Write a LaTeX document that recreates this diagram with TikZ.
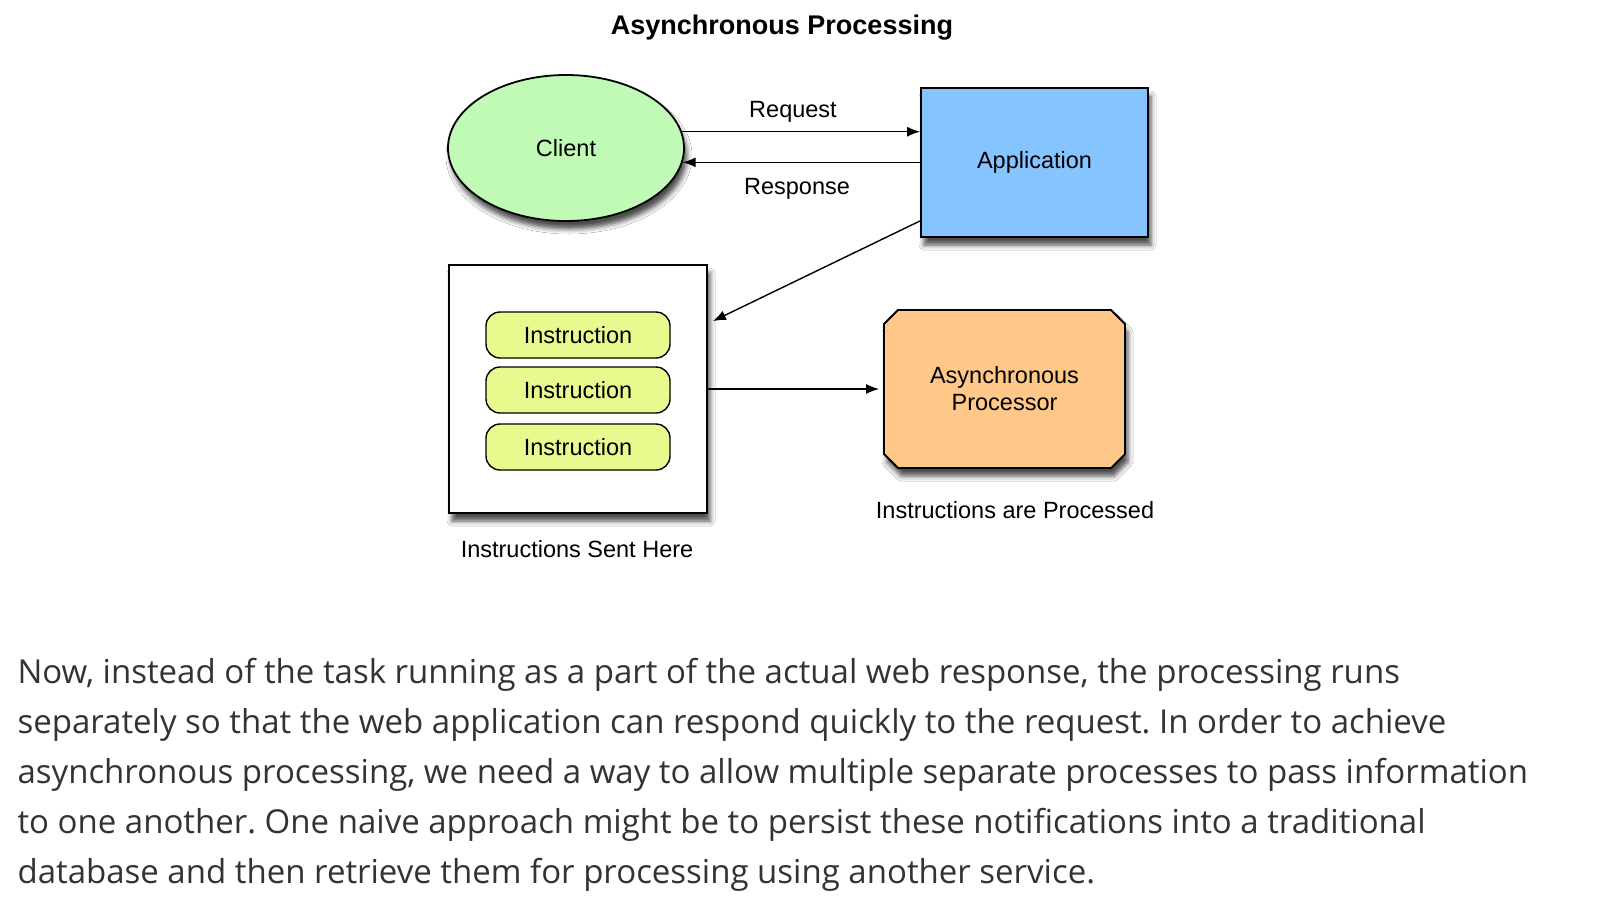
\documentclass[tikz,border=0pt]{standalone}
\usepackage{fontspec}
\setmainfont{Liberation Sans}
\newfontfamily\parafont{Open Sans}
\usetikzlibrary{arrows.meta,shapes.geometric,shapes.misc,shadows.blur}
\definecolor{clientgreen}{RGB}{192,250,182}
\definecolor{appblue}{RGB}{134,196,255}
\definecolor{instryellow}{RGB}{230,250,142}
\definecolor{procorange}{RGB}{255,200,136}
\definecolor{paragray}{RGB}{51,51,51}
\frenchspacing

\begin{document}
\begin{tikzpicture}[x=1pt,y=-1pt,
  every node/.style={font=\fontsize{23.5}{27}\selectfont},
  shade/.style={blur shadow={shadow xshift=3pt,shadow yshift=-8pt,
    shadow blur radius=5pt,shadow opacity=70}},
  box/.style={draw,line width=1.8pt,shade},
  instr/.style={draw,line width=1.4pt,fill=instryellow,rounded corners=14pt,
    minimum width=184pt,minimum height=46pt},
  arr/.style={-{Latex[length=13pt,width=10pt]},line width=1.4pt},
  para/.style={anchor=base west,text=paragray,
    font=\parafont\fontsize{33}{50}\selectfont}]
  \useasboundingbox[fill=white] (0,0) rectangle (1600,914);
  \node (title) at (782,28) {\fontsize{27}{30}\selectfont\bfseries Asynchronous Processing};
  \node[box,ellipse,fill=clientgreen,minimum width=236pt,minimum height=146pt] (client) at (566,148) {Client};
  \node[box,fill=appblue,minimum width=227pt,minimum height=149pt] (app) at (1034.5,162.5) {Application};
  \node[box,fill=white,minimum width=258pt,minimum height=248pt] (container) at (578,389) {};
  \node[instr] (instr1) at (578,335) {Instruction};
  \node[instr] (instr2) at (578,390) {Instruction};
  \node[instr] (instr3) at (578,447) {Instruction};
  \node[box,chamfered rectangle,chamfered rectangle xsep=7pt,chamfered rectangle ysep=7pt,
    fill=procorange,minimum width=241pt,minimum height=158pt,align=center,inner sep=0pt] (proc) at (1004.5,389)
    {Asynchronous\\Processor};
  \node (request) at (793,112) {Request};
  \node (response) at (797,189) {Response};
  \node (sentlabel) at (577,549) {Instructions Sent Here};
  \node (proclabel) at (1015,510) {Instructions are Processed};
  \draw[arr] (client.8) -- (client.8 -| app.west);
  \draw[arr] (app.west |- client.-7) -- (client.-7);
  \draw[arr] ([shift={(0,-17)}]app.south west) -- ([shift={(5,57)}]container.north east);
  \draw[arr] (container) -- ([xshift=-4pt]proc.west);
  \node[para] (line1) at (14,683) {Now, instead of the task running as a part of the actual web response, the processing runs};
  \node[para] (line2) at (14,733) {separately so that the web application can respond quickly to the request. In order to achieve};
  \node[para] (line3) at (14,783) {asynchronous processing, we need a way to allow multiple separate processes to pass information};
  \node[para] (line4) at (14,833) {to one another. One naive approach might be to persist these notifications into a traditional};
  \node[para] (line5) at (14,883) {database and then retrieve them for processing using another service.};
\end{tikzpicture}
\end{document}
